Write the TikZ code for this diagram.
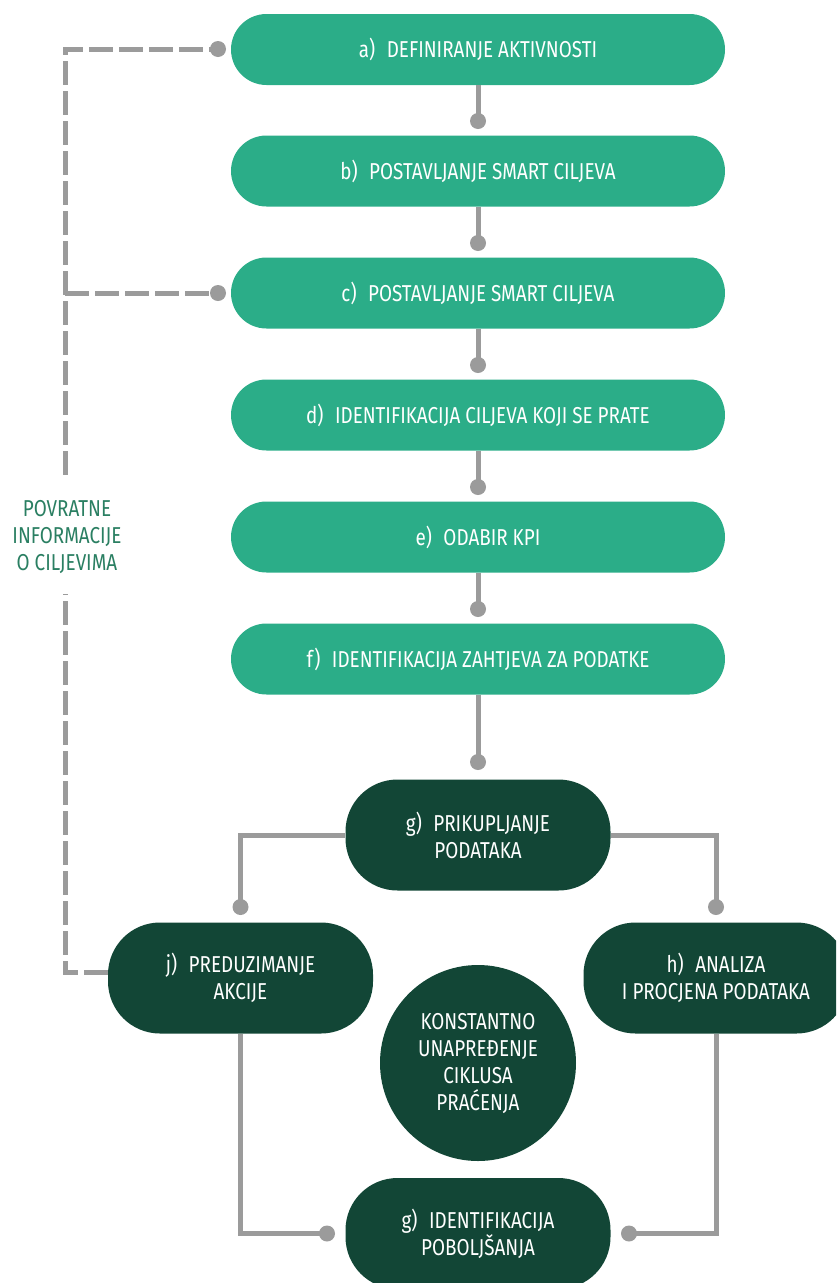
\documentclass[tikz,border=0pt]{standalone}
\usepackage{fontspec}
\setmainfont{Fira Sans}[FakeStretch=0.82]
\usetikzlibrary{calc}
\definecolor{lg}{HTML}{2BAD88}
\definecolor{dg}{HTML}{124636}
\definecolor{gr}{HTML}{9B9B9B}
\definecolor{lbl}{HTML}{2A7F62}
\begin{document}
\begin{tikzpicture}[x=1pt,y=-1pt,
  txt/.style={font=\fontsize{23}{27}\selectfont},
  topbox/.style={txt,fill=lg,rounded corners=35.5pt,minimum width=494pt,minimum height=71pt,text=white,inner sep=0pt},
  darkbox/.style={txt,fill=dg,rounded corners=52pt,minimum width=265pt,minimum height=111pt,text=white,align=center,inner sep=0pt},
  circbox/.style={txt,fill=dg,circle,minimum size=196pt,text=white,align=center,inner sep=0pt},
  conn/.style={draw=gr,line width=5pt,line join=miter},
  fb/.style={conn,dash pattern=on 24pt off 6pt},
  dotc/.style={fill=gr},
  fblabel/.style={font=\fontsize{23}{27}\selectfont,fill=white,text=lbl,align=center,inner xsep=2pt,inner ysep=20pt}
]
\useasboundingbox (0,0) rectangle (836,1283);
\clip (0,0) rectangle (836,1283);

% top chain
\node[topbox] (a) at (478,49.5) {a)\hspace{0.5em}DEFINIRANJE AKTIVNOSTI};
\node[topbox] (b) at (478,171) {b)\hspace{0.5em}POSTAVLJANJE SMART CILJEVA};
\node[topbox] (c) at (478,293) {c)\hspace{0.5em}POSTAVLJANJE SMART CILJEVA};
\node[topbox] (d) at (478,415) {d)\hspace{0.5em}IDENTIFIKACIJA CILJEVA KOJI SE PRATE};
\node[topbox] (e) at (478,537) {e)\hspace{0.5em}ODABIR KPI};
\node[topbox] (f) at (478,659) {f)\hspace{0.5em}IDENTIFIKACIJA ZAHTJEVA ZA PODATKE};

% cycle
\node[darkbox] (g) at (478,835) {g)\hspace{0.5em}PRIKUPLJANJE\\PODATAKA};
\node[darkbox] (j) at (240.5,978) {j)\hspace{0.5em}PREDUZIMANJE\\AKCIJE};
\node[darkbox] (h) at (716,978) {h)\hspace{0.5em}ANALIZA\\I PROCJENA PODATAKA};
\node[circbox] (k) at (478,1063) {KONSTANTNO\\UNAPREĐENJE\\CIKLUSA\\PRAĆENJA};
\node[darkbox] (i) at (478,1233.5) {g)\hspace{0.5em}IDENTIFIKACIJA\\POBOLJŠANJA};

% vertical connectors
\foreach \s/\t/\yy in {a/ab/121, b/bc/243, c/cd/365, d/de/487, e/ef/609, f/fg/762}{
  \coordinate (d\t) at (478,\yy);
  \draw[conn] (\s.south) -- (d\t);
  \fill[dotc] (d\t) circle[radius=8];
}

% cycle connectors
\coordinate (dj) at (240.5,907);
\coordinate (dh) at (716,907);
\coordinate (dil) at (327,1233.5);
\coordinate (dir) at (629,1233.5);
\draw[conn] (g.west) -| (dj);
\draw[conn] (g.east) -| (dh);
\draw[conn] (j.south) |- (dil);
\draw[conn] (h.south) |- (dir);
\foreach \p in {dj,dh,dil,dir} \fill[dotc] (\p) circle[radius=8];

% feedback
\coordinate (fa) at (218,49);
\coordinate (fc) at (218,293);
\coordinate (ftop) at (65,49);
\draw[fb] ($(j.west)+(0,-6)$) -| (ftop) -- (fa);
\draw[fb] (ftop |- fc) -- (fc);
\fill[dotc] (fa) circle[radius=8];
\fill[dotc] (fc) circle[radius=8];
\node[fblabel] (fbl) at (67,537) {POVRATNE\\INFORMACIJE\\O CILJEVIMA};
\end{tikzpicture}
\end{document}
